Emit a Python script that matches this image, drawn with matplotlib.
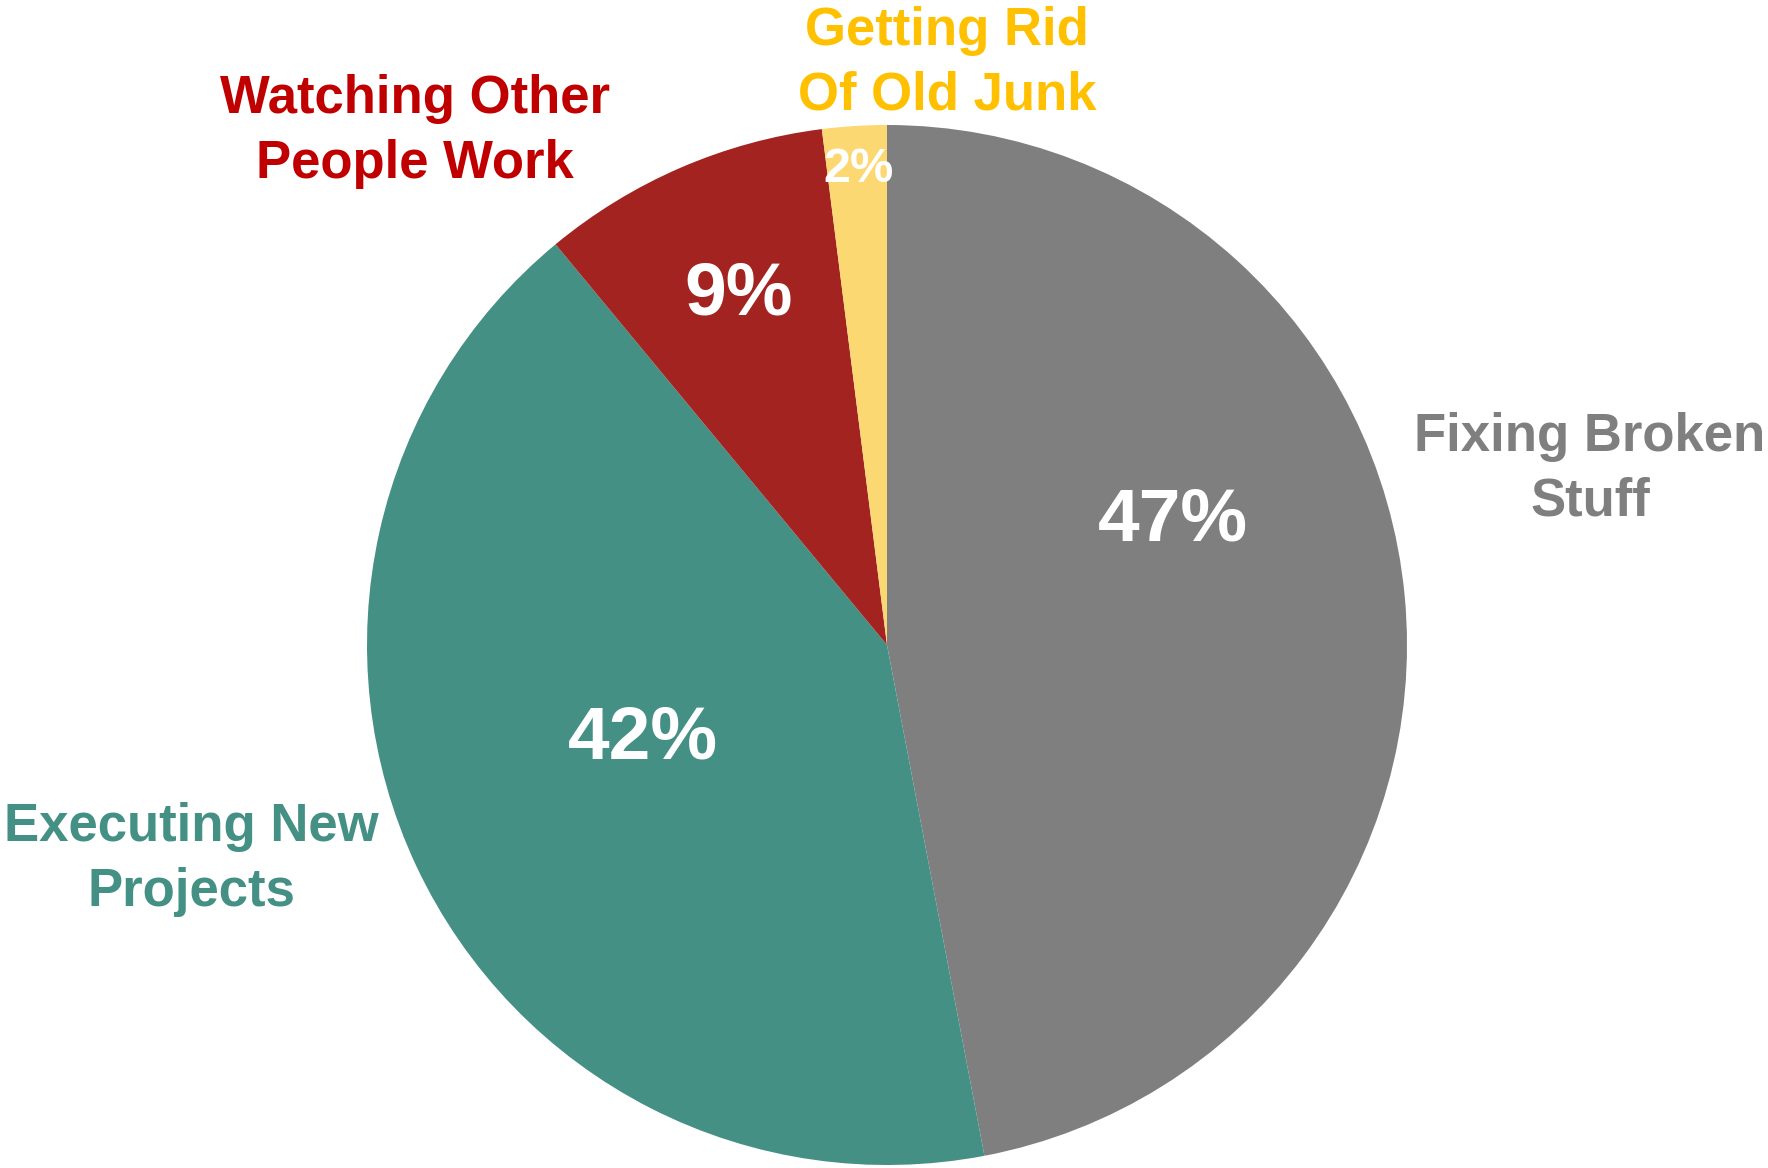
import matplotlib.pyplot as plt

# Share of time spent on each activity (clockwise from 12 o'clock)
categories = ['Fixing Broken\nStuff', 'Executing New\nProjects',
              'Watching Other\nPeople Work', 'Getting Rid\nOf Old Junk']
shares = [47, 42, 9, 2]
pct_labels = ['47%', '42%', '9%', '2%']

slice_colors = ['#7F7F7F', '#449084', '#A32320', '#FCD873']
label_colors = ['#7F7F7F', '#449084', '#C00000', '#FFC000']

# Text placement in pie units (radius = 1)
label_pos = [(1.352, 0.338), (-1.337, -0.412), (-0.908, 0.988), (0.115, 1.119)]
pct_pos = [(0.55, 0.238), (-0.469, -0.181), (-0.285, 0.673), (-0.054, 0.915)]
pct_sizes = [54, 54, 54, 35]

plt.rcParams['font.family'] = ['Liberation Sans', 'DejaVu Sans']

fig = plt.figure(figsize=(17.68, 11.68), dpi=100)
W, H = 1768, 1168
cx, cy, r = 887, 645, 520
ax = fig.add_axes([(cx - r) / W, (H - cy - r) / H, 2 * r / W, 2 * r / H])

ax.pie(shares, colors=slice_colors, startangle=90, counterclock=False,
       radius=1, wedgeprops={'linewidth': 0})
ax.set_xlim(-1, 1)
ax.set_ylim(-1, 1)
ax.axis('off')

for name, color, (x, y) in zip(categories, label_colors, label_pos):
    ax.text(x, y, name, color=color, fontsize=38, fontweight='bold',
            ha='center', va='center', linespacing=1.38)

for txt, size, (x, y) in zip(pct_labels, pct_sizes, pct_pos):
    ax.text(x, y, txt, color='white', fontsize=size, fontweight='bold',
            ha='center', va='center')

fig.savefig('out.png', dpi=100, facecolor='white')
